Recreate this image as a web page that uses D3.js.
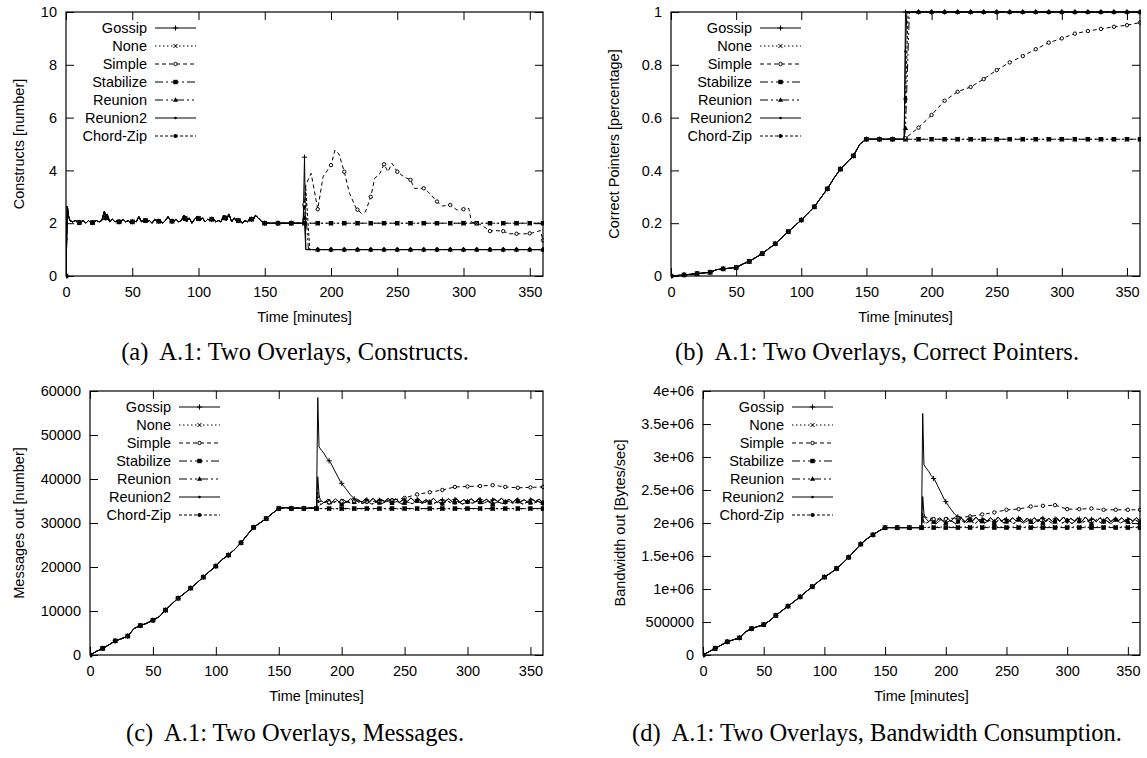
<!DOCTYPE html>
<html><head><meta charset="utf-8">
<script src="https://cdn.jsdelivr.net/npm/d3@7"></script>
<style>body{margin:0;background:#fff} svg{display:block}</style>
</head><body><svg id="c" width="1147" height="758"></svg>
<script>
// ---------------- DATA ----------------
const seriesNames = ["Gossip","None","Simple","Stabilize","Reunion","Reunion2","Chord-Zip"];
const timeTicks = [0,50,100,150,200,250,300,350];
const captions = ["(a)  A.1: Two Overlays, Constructs.","(b)  A.1: Two Overlays, Correct Pointers.","(c)  A.1: Two Overlays, Messages.","(d)  A.1: Two Overlays, Bandwidth Consumption."];
const yTitles = ["Constructs [number]","Correct Pointers [percentage]","Messages out [number]","Bandwidth out [Bytes/sec]"];
const xTitle = "Time [minutes]";

// (a) Constructs
const aTicks = [0,2,4,6,8,10];
const aTickLabels = ["0","2","4","6","8","10"];
const aPre = [[0,0],[1,2.65],[2,2.25],[3,2.1],[5,2.05],[7,2.1],[9,2.05],[11,2.0],[13,2.1],[15,2.0],[17,2.1],[19,2.0],[21,2.05],[23,2.1],[25,2.05],[27,2.1],[29,2.45],[30,2.2],[31,2.35],[33,2.05],[35,2.15],[37,2.05],[39,2.1],[41,2.0],[43,2.15],[45,2.05],[47,2.1],[49,2.0],[51,2.1],[53,2.05],[55,2.25],[57,2.05],[59,2.15],[61,2.05],[63,2.1],[65,2.0],[67,2.15],[69,2.05],[71,2.1],[73,2.0],[75,2.1],[77,2.25],[79,2.1],[81,2.05],[83,2.15],[85,2.05],[87,2.1],[89,2.3],[91,2.05],[93,2.2],[95,2.0],[97,2.15],[99,2.25],[101,2.1],[103,2.2],[105,2.05],[107,2.15],[109,2.1],[111,2.2],[113,2.05],[115,2.1],[117,2.05],[119,2.3],[121,2.1],[123,2.35],[125,2.05],[127,2.2],[129,2.05],[131,2.15],[133,2.0],[135,2.1],[137,2.05],[139,2.2],[141,2.1],[143,2.3],[145,2.2],[147,2.1],[149,2.0],[150,2.0],[160,2.0],[170,2.0],[179,2.0]];
const aGossip = [[180,4.5],[181,1],[360,1]];
const aNone = [[360,2]];
const aSimple = [[181,3.45],[185,3.89],[190,2.53],[194,3.76],[200,4.2],[203,4.77],[206,4.62],[210,3.95],[214,3.13],[219,2.56],[223,2.37],[226,2.43],[230,3.0],[233,3.7],[237,3.89],[240,4.23],[243,3.95],[246,4.27],[250,3.95],[255,3.76],[260,3.64],[263,3.32],[270,3.32],[273,3.2],[280,2.82],[284,2.65],[290,2.69],[295,2.5],[300,2.53],[304,2.56],[306,2.04],[310,2.0],[314,1.92],[320,1.7],[324,1.72],[330,1.7],[334,1.6],[340,1.6],[348,1.6],[352,1.63],[358,1.72],[360,1.35]];
const aStabilize = [[360,2]];
const aReunion = [[181,2.4],[183,1],[360,1]];
const aReunion2 = [[180,2],[181,1],[360,1]];
const aChordZip = [[181,3.3],[184,1],[360,1]];

// (b) Correct pointers
const bTicks = [0,0.2,0.4,0.6,0.8,1];
const bTickLabels = ["0","0.2","0.4","0.6","0.8","1"];
const bPre = [[0,0],[10,0.004],[20,0.009],[30,0.014],[35,0.024],[40,0.027],[50,0.032],[55,0.045],[60,0.055],[65,0.07],[70,0.085],[80,0.122],[90,0.168],[100,0.212],[110,0.262],[120,0.33],[125,0.37],[130,0.405],[140,0.455],[145,0.5],[150,0.518],[160,0.518],[170,0.518],[179,0.518]];
const bGossip = [[180,1],[360,1]];
const bNone = [[360,0.518]];
const bSimple = [[190,0.562],[200,0.61],[210,0.664],[220,0.698],[230,0.716],[240,0.746],[250,0.78],[260,0.809],[270,0.833],[280,0.859],[290,0.884],[300,0.9],[310,0.918],[320,0.928],[330,0.936],[340,0.944],[350,0.95],[360,0.96]];
const bStabilize = [[360,0.518]];
const bReunion = [[180,0.56],[183,1],[360,1]];
const bReunion2 = [[180,0.85],[181,1],[360,1]];
const bChordZip = [[180,0.67],[182,1],[360,1]];

// (c) Messages
const cTicks = [0,10000,20000,30000,40000,50000,60000];
const cTickLabels = ["0","10000","20000","30000","40000","50000","60000"];
const cPre = [[0,0],[5,800],[10,1500],[15,2300],[20,3200],[25,3700],[30,4300],[35,6000],[40,6700],[45,7200],[50,7900],[55,8700],[60,10200],[65,11600],[70,12900],[75,14000],[80,15200],[85,16400],[90,17700],[95,19000],[100,20200],[105,21700],[110,22700],[115,24000],[120,25500],[125,27300],[130,29000],[135,30000],[140,31000],[145,32200],[150,33300],[155,33500],[160,33300],[165,33400],[170,33300],[175,33400],[180,33300]];
const cWobble1 = [[213,35300],[216,34700],[219,35500],[222,34800],[225,35600],[228,34700],[231,35400],[234,34900],[237,35600],[240,34800],[243,35500],[246,34700],[249,35400],[252,34800],[255,35700],[258,34900],[261,35500],[264,34700],[267,35300],[270,34800],[273,35600],[276,34700],[279,35400],[282,34900],[285,35500],[288,34800],[291,35600],[294,34700],[297,35300],[300,34900],[303,35500],[306,34700],[309,35600],[312,34800],[315,35400],[318,34700],[321,35500],[324,34900],[327,35600],[330,34800],[333,35400],[336,34700],[339,35500],[342,34800],[345,35300],[348,34700],[351,35500],[354,34900],[357,35400],[360,34600]];
const cWobble2 = [[184,34300],[188,34900],[192,34400],[196,35000],[200,34300],[204,34800],[208,34500],[212,35000],[216,34400],[220,34900],[224,34300],[228,34800],[232,34400],[236,35000],[240,34500],[244,34900],[248,34300],[252,34800],[256,34400],[260,35000],[264,34500],[268,34900],[272,34300],[276,34800],[280,34400],[284,35000],[288,34400],[292,34900],[296,34300],[300,34800],[304,34500],[308,35000],[312,34400],[316,34900],[320,34300],[324,34800],[328,34400],[332,35000],[336,34500],[340,34900],[344,34300],[348,34800],[352,34400],[356,34900],[360,34500]];
const cGossipHead = [[181,58500],[182,47300],[184,46500],[186,45800],[188,44800],[191,43800],[195,41600],[199,39400],[203,37900],[207,36400],[211,35200]];
const cNone = [[190,33200],[360,33200]];
const cSimple = [[181,35000],[190,34700],[200,34900],[210,35000],[220,34800],[230,35000],[240,35200],[250,35700],[260,36500],[270,37000],[280,37500],[290,38200],[300,38300],[310,38400],[320,38600],[330,38200],[340,38000],[350,38100],[360,38200]];
const cStabilize = [[360,33300]];
const cReunionHead = [[181,37000],[182,34000]];
const cReunion2Head = [[181,40500],[182,36500],[183,35200],[186,34600],[189,35400],[192,34700],[195,35500],[198,34800],[201,35400],[204,34700],[207,35500],[210,34800]];
const cChordZipHead = [[181,36000],[182,34500]];

// (d) Bandwidth
const dTicks = [0,500000,1000000,1500000,2000000,2500000,3000000,3500000,4000000];
const dTickLabels = ["0","500000","1e+06","1.5e+06","2e+06","2.5e+06","3e+06","3.5e+06","4e+06"];
const dPre = [[0,0],[5,50000],[10,100000],[15,150000],[20,200000],[25,230000],[30,260000],[35,350000],[40,400000],[45,430000],[50,460000],[55,520000],[60,600000],[65,670000],[70,740000],[75,810000],[80,880000],[85,960000],[90,1035000],[95,1110000],[100,1180000],[105,1240000],[110,1310000],[115,1390000],[120,1480000],[125,1580000],[130,1680000],[135,1760000],[140,1820000],[145,1880000],[150,1930000],[160,1930000],[170,1930000],[180,1930000]];
const dWobble1 = [[213,2070000],[216,2020000],[219,2080000],[222,2030000],[225,2090000],[228,2020000],[231,2070000],[234,2030000],[237,2080000],[240,2020000],[243,2090000],[246,2030000],[249,2070000],[252,2020000],[255,2080000],[258,2030000],[261,2090000],[264,2020000],[267,2070000],[270,2030000],[273,2080000],[276,2020000],[279,2090000],[282,2030000],[285,2070000],[288,2020000],[291,2080000],[294,2030000],[297,2090000],[300,2020000],[303,2070000],[306,2030000],[309,2080000],[312,2020000],[315,2090000],[318,2030000],[321,2070000],[324,2020000],[327,2080000],[330,2030000],[333,2090000],[336,2020000],[339,2070000],[342,2030000],[345,2080000],[348,2020000],[351,2070000],[354,2030000],[357,2080000],[360,2030000]];
const dWobble2 = [[184,2000000],[188,2040000],[192,1990000],[196,2050000],[200,2000000],[204,2040000],[208,1990000],[212,2050000],[216,2000000],[220,2040000],[224,1990000],[228,2050000],[232,2000000],[236,2040000],[240,1990000],[244,2050000],[248,2000000],[252,2040000],[256,1990000],[260,2050000],[264,2000000],[268,2040000],[272,1990000],[276,2050000],[280,2000000],[284,2040000],[288,1990000],[292,2050000],[296,2000000],[300,2040000],[304,1990000],[308,2050000],[312,2000000],[316,2040000],[320,1990000],[324,2050000],[328,2000000],[332,2040000],[336,1990000],[340,2050000],[344,2000000],[348,2040000],[352,1990000],[356,2050000],[360,2000000]];
const dGossipHead = [[181,3660000],[182,2880000],[184,2830000],[186,2780000],[188,2720000],[191,2650000],[195,2500000],[199,2350000],[203,2240000],[207,2140000],[211,2080000]];
const dNone = [[190,1940000],[360,1940000]];
const dSimple = [[181,2100000],[190,2060000],[200,2060000],[210,2080000],[220,2100000],[230,2130000],[240,2160000],[250,2200000],[260,2210000],[270,2250000],[280,2260000],[290,2270000],[300,2210000],[310,2210000],[320,2220000],[330,2200000],[340,2200000],[350,2200000],[360,2200000]];
const dStabilize = [[360,1930000]];
const dReunionHead = [[181,2150000],[182,2000000]];
const dReunion2Head = [[181,2400000],[182,2150000],[183,2080000],[186,2020000],[189,2090000],[192,2020000],[195,2080000],[198,2030000],[201,2090000],[204,2020000],[207,2080000],[210,2030000]];
const dChordZipHead = [[181,2100000],[182,2010000]];

// ---------------- BUILD ----------------
const after = (arr, t) => arr.filter(d => d[0] > t);
const panelSeries = [
  [aGossip,aNone,aSimple,aStabilize,aReunion,aReunion2,aChordZip].map(p => aPre.concat(p)),
  [bGossip,bNone,bSimple,bStabilize,bReunion,bReunion2,bChordZip].map(p => bPre.concat(p)),
  [cGossipHead.concat(after(cWobble1,211)), cNone, cSimple, cStabilize,
   cReunionHead.concat(cWobble2), cReunion2Head.concat(after(cWobble1,210)), cChordZipHead.concat(cWobble2)].map(p => cPre.concat(p)),
  [dGossipHead.concat(after(dWobble1,211)), dNone, dSimple, dStabilize,
   dReunionHead.concat(dWobble2), dReunion2Head.concat(after(dWobble1,210)), dChordZipHead.concat(dWobble2)].map(p => dPre.concat(p))
];
const panelTicks = [[aTicks,aTickLabels],[bTicks,bTickLabels],[cTicks,cTickLabels],[dTicks,dTickLabels]];
const panelDomains = [[0,10],[0,1],[0,60000],[0,4000000]];

// ---------------- LAYOUT / STYLE ----------------
const layout = [
  {left:66, right:543, top:12, bottom:276, ytx:19, capX:295, capY:360},
  {left:671, right:1140, top:12, bottom:276, ytx:614, capX:877, capY:360},
  {left:90, right:543, top:391, bottom:655, ytx:19, capX:295, capY:741},
  {left:703, right:1140, top:391, bottom:655, ytx:620, capX:877, capY:741}
];
const SANS = "'Liberation Sans', Arial, Helvetica, sans-serif";
const SERIF = "'Liberation Serif', 'Times New Roman', Times, serif";
const FS = 14.5;
const style = {
  "Gossip":{dash:null, mk:"plus"},
  "None":{dash:"1.5,2.5", mk:"cross"},
  "Simple":{dash:"4,3", mk:"ocircle"},
  "Stabilize":{dash:"8,3,2,3", mk:"square"},
  "Reunion":{dash:"8,3,2,3,2,3", mk:"triangle"},
  "Reunion2":{dash:null, mk:"dot"},
  "Chord-Zip":{dash:"3,2", mk:"fcircle"}
};

const svg = d3.select("#c");
svg.append("rect").attr("width",1147).attr("height",758).attr("fill","#fff");

function marker(g, type, cx, cy) {
  const s = 2.6;
  if (type === "plus") {
    g.append("path").attr("d",`M${cx-s},${cy}H${cx+s}M${cx},${cy-s}V${cy+s}`).attr("stroke","#000").attr("stroke-width",1);
  } else if (type === "cross") {
    g.append("path").attr("d",`M${cx-s*0.8},${cy-s*0.8}L${cx+s*0.8},${cy+s*0.8}M${cx-s*0.8},${cy+s*0.8}L${cx+s*0.8},${cy-s*0.8}`).attr("stroke","#000").attr("stroke-width",1);
  } else if (type === "ocircle") {
    g.append("circle").attr("cx",cx).attr("cy",cy).attr("r",1.7).attr("fill","#fff").attr("stroke","#000").attr("stroke-width",1);
  } else if (type === "square") {
    g.append("rect").attr("x",cx-2.2).attr("y",cy-2.2).attr("width",4.4).attr("height",4.4).attr("fill","#000");
  } else if (type === "triangle") {
    g.append("path").attr("d",`M${cx},${cy-2.8}L${cx+2.6},${cy+1.8}L${cx-2.6},${cy+1.8}Z`).attr("fill","#000");
  } else if (type === "dot") {
    g.append("circle").attr("cx",cx).attr("cy",cy).attr("r",1.3).attr("fill","#000");
  } else if (type === "fcircle") {
    g.append("circle").attr("cx",cx).attr("cy",cy).attr("r",2.1).attr("fill","#000");
  }
}

function valueAt(series, t) {
  const bis = d3.bisector(d => d[0]).left;
  const i = bis(series, t);
  if (i < series.length && series[i][0] === t) return series[i][1];
  if (i === 0 || i >= series.length) return null;
  const a = series[i-1], b = series[i];
  return a[1] + (b[1]-a[1]) * (t - a[0]) / (b[0] - a[0]);
}

layout.forEach((L, pi) => {
  const g = svg.append("g");
  const x = d3.scaleLinear().domain([0,360]).range([L.left, L.right]);
  const y = d3.scaleLinear().domain(panelDomains[pi]).range([L.bottom, L.top]);
  const [tv, tl] = panelTicks[pi];

  const clipId = "clip" + pi;
  svg.append("clipPath").attr("id", clipId).append("rect")
    .attr("x", L.left).attr("y", L.top - 3).attr("width", L.right - L.left + 1).attr("height", L.bottom - L.top + 6);

  const axB = d3.axisBottom(x).tickValues(timeTicks).tickSize(-8).tickPadding(11).tickFormat(d3.format("d"));
  const axT = d3.axisTop(x).tickValues(timeTicks).tickSize(-8).tickFormat("");
  const axL = d3.axisLeft(y).tickValues(tv).tickSize(-8).tickPadding(9).tickFormat((d,i) => tl[i]);
  const axR = d3.axisRight(y).tickValues(tv).tickSize(-8).tickFormat("");
  [[axB,`translate(0,${L.bottom})`],[axT,`translate(0,${L.top})`],[axL,`translate(${L.left},0)`],[axR,`translate(${L.right},0)`]].forEach(([ax,tr]) => {
    const a = g.append("g").attr("transform", tr).call(ax);
    a.select(".domain").remove();
    a.selectAll("line").attr("stroke","#000").attr("stroke-width",1);
    a.selectAll("text").attr("font-family", SANS).attr("font-size", FS).attr("fill","#000");
  });

  const line = d3.line().x(d => x(d[0])).y(d => y(d[1]));
  const sg = g.append("g").attr("clip-path", `url(#${clipId})`);
  const order = [6,5,4,3,2,1,0];
  order.forEach(si => {
    const name = seriesNames[si];
    const data = panelSeries[pi][si];
    const st = style[name];
    const p = sg.append("path").datum(data).attr("d", line)
      .attr("fill","none").attr("stroke","#000").attr("stroke-width",1)
      .attr("stroke-linejoin","round");
    if (st.dash) p.attr("stroke-dasharray", st.dash);
  });
  order.forEach(si => {
    const name = seriesNames[si];
    const data = panelSeries[pi][si];
    for (let t = 0; t <= 360; t += 10) {
      const v = valueAt(data, t);
      if (v === null) continue;
      marker(sg, style[name].mk, x(t), y(v));
    }
  });

  g.append("rect").attr("x", L.left).attr("y", L.top).attr("width", L.right - L.left).attr("height", L.bottom - L.top)
    .attr("fill","none").attr("stroke","#000").attr("stroke-width",1.2);

  seriesNames.forEach((name, i) => {
    const ly = L.top + 16 + i * 18;
    g.append("text").attr("x", L.left + 81).attr("y", ly).attr("dy","0.35em")
      .attr("text-anchor","end").attr("font-family", SANS).attr("font-size", FS).attr("fill","#000").text(name);
    const ln = g.append("line").attr("x1", L.left + 89).attr("x2", L.left + 130).attr("y1", ly).attr("y2", ly)
      .attr("stroke","#000").attr("stroke-width",1);
    if (style[name].dash) ln.attr("stroke-dasharray", style[name].dash);
    marker(g, style[name].mk, L.left + 109.5, ly);
  });

  g.append("text").attr("x", (L.left + L.right) / 2).attr("y", L.bottom + 46)
    .attr("text-anchor","middle").attr("font-family", SANS).attr("font-size", FS).attr("fill","#000").text(xTitle);
  g.append("text").attr("transform", `translate(${L.ytx},${(L.top + L.bottom) / 2}) rotate(-90)`)
    .attr("text-anchor","middle").attr("dy","0.35em").attr("font-family", SANS).attr("font-size", FS).attr("fill","#000").text(yTitles[pi]);

  g.append("text").attr("x", L.capX).attr("y", L.capY).attr("text-anchor","middle").attr("font-family", SERIF).attr("font-size", 24.5)
    .attr("fill","#000").style("white-space","pre").text(captions[pi]);
});
</script>
</body></html>
